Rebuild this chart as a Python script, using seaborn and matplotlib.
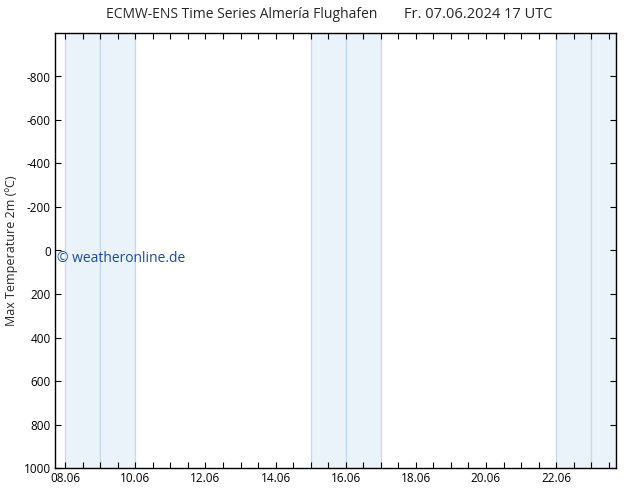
import matplotlib
matplotlib.use("Agg")
import matplotlib.pyplot as plt
import matplotlib.dates as mdates
import matplotlib.transforms as mtransforms
import seaborn as sns
import pandas as pd
import numpy as np

sns.set_style("ticks")
plt.rcParams['font.family'] = ['Open Sans', 'DejaVu Sans']

title_left = "ECMW-ENS Time Series Almería Flughafen"
title_right = "Fr. 07.06.2024 17 UTC"
ylabel = "Max Temperature 2m (ºC)"
watermark = "© weatheronline.de"

x_start = "2024-06-07 17:00"
x_end = "2024-06-23 17:00"
weekend_days = ["2024-06-08", "2024-06-09", "2024-06-15", "2024-06-16", "2024-06-22", "2024-06-23"]
xtick_dates = ["2024-06-08", "2024-06-10", "2024-06-12", "2024-06-14", "2024-06-16",
               "2024-06-18", "2024-06-20", "2024-06-22"]
xtick_labels = ["08.06", "10.06", "12.06", "14.06", "16.06", "18.06", "20.06", "22.06"]
yticks = [-800, -600, -400, -200, 0, 200, 400, 600, 800, 1000]

# empty series (no forecast values shown)
series = pd.DataFrame({"time": pd.to_datetime([x_start, x_end]), "tmax": [np.nan, np.nan]})

fig = plt.figure(figsize=(6.34, 4.90), dpi=100)
ax = fig.add_axes([55/634, 1-468/490, (616-55)/634, (468-33)/490])
sns.lineplot(data=series, x="time", y="tmax", ax=ax)

xs = pd.Timestamp(x_start)
xe = pd.Timestamp(x_end)
for d in weekend_days:
    s = pd.Timestamp(d)
    e = min(s + pd.Timedelta(days=1), xe)
    ax.axvspan(s, e, facecolor="#eaf2fa", edgecolor="#c5daee", linewidth=0.9, zorder=0)

ax.set_xlim(xs, xe)
ax.set_ylim(1000, -1000)
ax.set_yticks(yticks)
ax.set_yticklabels([str(v) for v in yticks])
ax.set_xticks(pd.to_datetime(xtick_dates))
ax.set_xticklabels(xtick_labels)
ax.xaxis.set_minor_locator(mdates.HourLocator(byhour=[0, 12]))
ax.tick_params(axis="both", which="both", direction="in", top=True, right=True,
               labelsize=8.5, length=4, width=0.8, colors="black", pad=3)
ax.tick_params(axis="x", which="minor", length=4)
ax.set_xlabel("")
ax.set_ylabel(ylabel, fontsize=9)
for sp in ax.spines.values():
    sp.set_linewidth(1.0)
    sp.set_color("black")

fig.text(242/634, 1-14/490, title_left, ha="center", va="center", fontsize=10)
fig.text(478/634, 1-14/490, title_right, ha="center", va="center", fontsize=10.5)
trans = mtransforms.blended_transform_factory(ax.transAxes, ax.transData)
ax.text(2/561, 35, watermark, transform=trans, fontsize=10, color="#1a4aa0",
        va="center", ha="left", clip_on=False)
fig.savefig("out.png", dpi=100)
